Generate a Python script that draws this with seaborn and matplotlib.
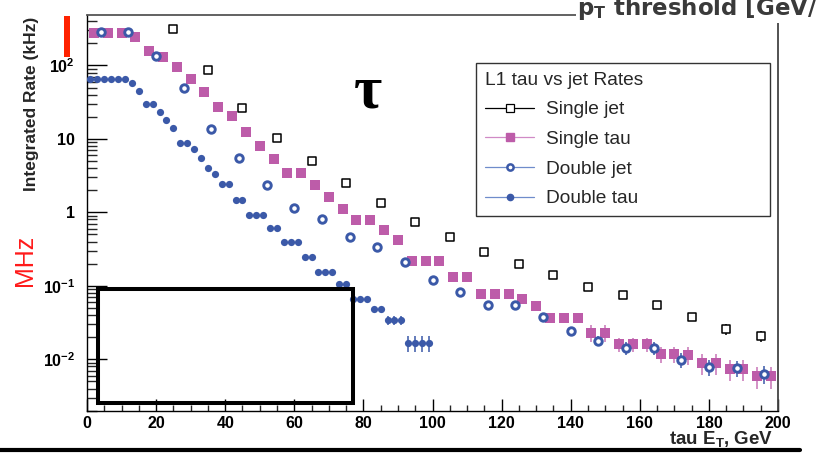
import matplotlib
matplotlib.use("Agg")
import matplotlib.pyplot as plt
import seaborn as sns
import pandas as pd
from matplotlib.lines import Line2D
from matplotlib.patches import Rectangle
from matplotlib.ticker import MultipleLocator, LogLocator, NullFormatter

# ---------------- data ----------------
single_jet_x = [25, 35, 45, 55, 65, 75, 85, 95, 105, 115, 125, 135, 145, 155, 165, 175, 185, 195]
single_jet_y = [312, 86, 26.2, 10.3, 4.99, 2.5, 1.34, 0.736, 0.46, 0.288, 0.198, 0.140,
                0.096, 0.075, 0.0548, 0.0376, 0.0258, 0.0207]
single_jet_err = [0, 0, 0, 0, 0, 0, 0, 0, 0, 0, 0, 0, 0, 0, 0, 0, 0.0043, 0.0036]

single_tau_x = [2, 6, 10, 14, 18, 22, 26, 30, 34, 38, 42, 46, 50, 54, 58, 62, 66, 70, 74, 78,
                82, 86, 90, 94, 98, 102, 106, 110, 114, 118, 122, 126, 130, 134, 138, 142, 146,
                150, 154, 158, 162, 166, 170, 174, 178, 182, 186, 190, 194, 198]
single_tau_y = [272, 272, 272, 245, 157, 131, 96, 65, 43.8, 27, 20.5, 12.5, 8.0, 5.3, 3.43, 3.43,
                2.35, 1.61, 1.11, 0.785, 0.785, 0.575, 0.42, 0.217, 0.217, 0.217, 0.132, 0.132,
                0.078, 0.078, 0.078, 0.066, 0.053, 0.0365, 0.0365, 0.0365, 0.023, 0.023, 0.0162,
                0.0162, 0.0162, 0.0118, 0.0118, 0.0115, 0.0089, 0.0089, 0.0074, 0.0074, 0.0059, 0.0059]
single_tau_err = [0] * 36 + [0.006, 0.006, 0.0035, 0.0035, 0.0035, 0.003, 0.003, 0.003,
                             0.0028, 0.0028, 0.0024, 0.0024, 0.002, 0.002]

double_jet_x = [4, 12, 20, 28, 36, 44, 52, 60, 68, 76, 84, 92, 100, 108, 116, 124, 132, 140,
                148, 156, 164, 172, 180, 188, 196]
double_jet_y = [284, 284, 134, 49, 13.6, 5.5, 2.35, 1.14, 0.81, 0.46, 0.337, 0.21, 0.12, 0.083,
                0.054, 0.054, 0.038, 0.0245, 0.0178, 0.0144, 0.0144, 0.0098, 0.0079, 0.0076, 0.0063]
double_jet_err = [0] * 18 + [0.0027, 0.0029, 0.0029, 0.0022, 0.002, 0.0019, 0.0017]

double_tau_x = [1, 3, 5, 7, 9, 11, 13, 15, 17, 19, 21, 23, 25, 27, 29, 31, 33, 35, 37, 39, 41,
                43, 45, 47, 49, 51, 53, 55, 57, 59, 61, 63, 65, 67, 69, 71, 73, 75, 77, 79, 81,
                83, 85, 87, 89, 91, 93, 95, 97, 99]
double_tau_y = [65, 65, 65, 65, 65, 65, 57, 45, 29.6, 29.6, 23, 18.3, 14, 8.8, 8.8, 7.3, 5.5,
                4.0, 3.3, 2.4, 2.4, 1.47, 1.47, 0.92, 0.92, 0.92, 0.61, 0.61, 0.39, 0.39, 0.39,
                0.25, 0.25, 0.154, 0.154, 0.154, 0.107, 0.107, 0.066, 0.066, 0.066, 0.048, 0.048,
                0.034, 0.034, 0.034, 0.0167, 0.0167, 0.0167, 0.0167]
double_tau_err = [0] * 43 + [0.005, 0.005, 0.005, 0.004, 0.004, 0.004, 0.004]

y_tick_values = [0.01, 0.1, 1, 10, 100]
y_tick_labels = [r"$\mathbf{10^{-2}}$", r"$\mathbf{10^{-1}}$", "1", "10", r"$\mathbf{10^{2}}$"]
x_tick_values = [0, 20, 40, 60, 80, 100, 120, 140, 160, 180, 200]

legend_title = "L1 tau vs jet Rates"
series_names = ["Single jet", "Single tau", "Double jet", "Double tau"]

# ---------------- style ----------------
sns.set_theme(style="white")
plt.rcParams["font.family"] = ["Liberation Sans", "DejaVu Sans"]
plt.rcParams["mathtext.fontset"] = "custom"
plt.rcParams["mathtext.rm"] = "Liberation Sans"
plt.rcParams["mathtext.bf"] = "Liberation Sans:bold"
plt.rcParams["mathtext.it"] = "Liberation Sans:italic"
plt.rcParams["axes.unicode_minus"] = True

BLUE = "#3b59a8"
PINK = "#bd5ca9"

W, H = 817, 454
fig = plt.figure(figsize=(W / 100, H / 100), dpi=100)
fig.patch.set_facecolor("white")
ax = fig.add_axes([87 / W, 1 - 411 / H, 691 / W, 396 / H])
ax.set_facecolor("white")

sj = pd.DataFrame({"x": single_jet_x, "y": single_jet_y, "e": single_jet_err})
st = pd.DataFrame({"x": single_tau_x, "y": single_tau_y, "e": single_tau_err})
dj = pd.DataFrame({"x": double_jet_x, "y": double_jet_y, "e": double_jet_err})
dt = pd.DataFrame({"x": double_tau_x, "y": double_tau_y, "e": double_tau_err})

# error bars
for df, col in [(sj, "black"), (st, "#c874b6"), (dj, BLUE), (dt, BLUE)]:
    m = df["e"] > 0
    ax.errorbar(df.loc[m, "x"], df.loc[m, "y"], yerr=df.loc[m, "e"], fmt="none",
                ecolor=col, elinewidth=1.1, capsize=0, zorder=2)

sns.scatterplot(data=sj, x="x", y="y", ax=ax, marker="s", s=37, color="white",
                edgecolor="black", linewidth=1.1, zorder=3)
sns.scatterplot(data=st, x="x", y="y", ax=ax, marker="s", s=46, color=PINK,
                edgecolor=PINK, linewidth=0, zorder=3)
sns.scatterplot(data=dj, x="x", y="y", ax=ax, marker="o", s=29, color="white",
                edgecolor=BLUE, linewidth=2.1, zorder=4)
sns.scatterplot(data=dt, x="x", y="y", ax=ax, marker="o", s=27, color=BLUE,
                edgecolor=BLUE, linewidth=0, zorder=4)

ax.set_yscale("log")
ax.set_xlim(0, 200)
ax.set_ylim(0.00198, 485)
ax.set_xlabel("")
ax.set_ylabel("")

ax.set_xticks(x_tick_values, [str(v) for v in x_tick_values], fontweight="bold", fontsize=11.5)
ax.xaxis.set_minor_locator(MultipleLocator(5))
ax.set_yticks(y_tick_values, y_tick_labels, fontweight="bold", fontsize=11.5)
ax.yaxis.set_minor_locator(LogLocator(base=10, subs=[2, 3, 4, 5, 6, 7, 8, 9], numticks=20))
ax.yaxis.set_minor_formatter(NullFormatter())

ax.tick_params(axis="x", which="major", direction="in", length=8.6, width=1.0, bottom=True,
               top=False, pad=3.5, colors="black")
ax.tick_params(axis="x", which="minor", direction="in", length=4.3, width=1.0, bottom=True, top=False)
ax.tick_params(axis="y", which="major", direction="in", length=14.4, width=1.0, left=True,
               right=False, pad=8.5, colors="black")
ax.tick_params(axis="y", which="minor", direction="in", length=7.2, width=1.0, left=True, right=False)

for side, c, lw in [("left", "black", 1.0), ("bottom", "black", 1.0), ("top", "#555555", 1.3),
                    ("right", "#444444", 1.3)]:
    ax.spines[side].set_color(c)
    ax.spines[side].set_linewidth(lw)
    ax.spines[side].set_visible(True)

# legend
handles = [
    Line2D([], [], color="black", lw=0.9, marker="s", ms=6.0, mfc="white", mec="black", mew=0.9),
    Line2D([], [], color="#d08ac6", lw=0.9, marker="s", ms=6.0, mfc=PINK, mec=PINK),
    Line2D([], [], color="#6f8ccb", lw=0.9, marker="o", ms=4.5, mfc="white", mec=BLUE, mew=1.8),
    Line2D([], [], color="#6f8ccb", lw=0.9, marker="o", ms=4.5, mfc=BLUE, mec=BLUE),
]
leg = ax.legend(handles, series_names, title=legend_title, loc="upper left",
                bbox_to_anchor=(476 / W, 1 - 213 / H, 294 / W, 150 / H),
                bbox_transform=fig.transFigure, mode="expand", alignment="left",
                fontsize=13.8, title_fontsize=13.8, frameon=True, fancybox=False,
                framealpha=1, edgecolor="#333333", borderpad=0.45, labelspacing=0.64,
                handlelength=2.6, handletextpad=0.6, borderaxespad=0)
leg.get_frame().set_linewidth(1.0)

# axis titles
fig.text(32 / W, 1 - 104 / H, "Integrated Rate (kHz)", rotation=90, ha="center", va="center",
         fontsize=12.5, fontweight="bold")
fig.text(773 / W, 1 - 444 / H, r"tau E$_{\mathbf{T}}$, GeV", ha="right", va="baseline",
         fontsize=13.5, fontweight="bold")

# slide annotations
fig.text(577 / W, 1 - 15 / H, r"p$_{\mathbf{T}}$ threshold [GeV/c]", ha="left", va="baseline",
         fontsize=16.5, fontweight="bold", color="#3a3a3a", family="DejaVu Sans",
         math_fontfamily="dejavusans",
         bbox=dict(facecolor="white", edgecolor="none", pad=1.0))
fig.text(368 / W, 1 - 92 / H, "τ", ha="center", va="center", fontsize=44, fontweight="bold",
         family=["Liberation Serif", "DejaVu Serif"], color="black")
fig.text(25 / W, 1 - 260 / H, "MHz", rotation=90, ha="center", va="center", fontsize=18,
         color="#ff1a1a")
fig.add_artist(Rectangle((64 / W, 1 - 57 / H), 6 / W, 41 / H, transform=fig.transFigure,
                         facecolor="#ff2200", edgecolor="none"))
fig.add_artist(Rectangle((98 / W, 1 - 403 / H), 255 / W, 114 / H, transform=fig.transFigure,
                         facecolor="none", edgecolor="black", linewidth=2.9))
fig.add_artist(Line2D([0, 800 / W], [1 - 450 / H, 1 - 450 / H], transform=fig.transFigure,
                      color="black", linewidth=3.0))

fig.savefig("out.png", dpi=100, facecolor="white")
